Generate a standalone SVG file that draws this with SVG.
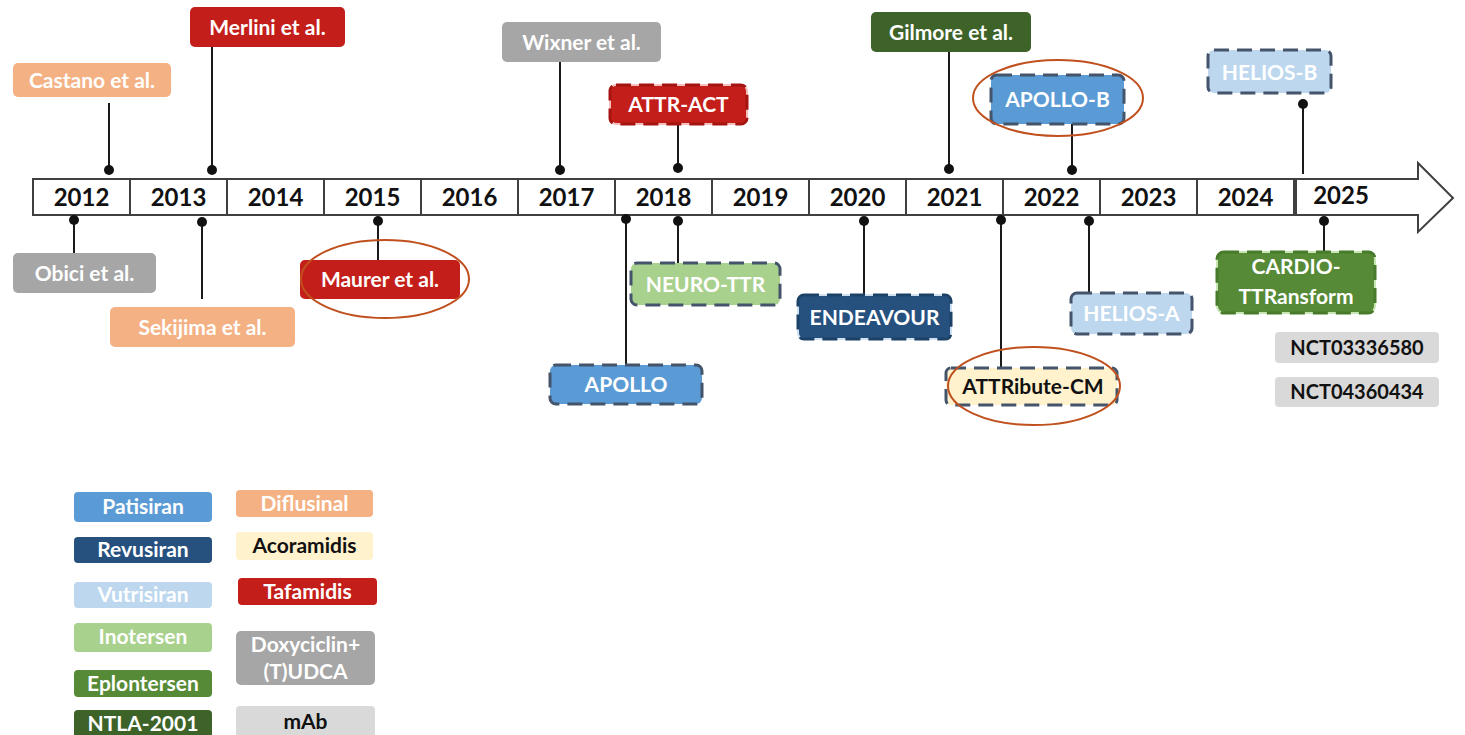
<svg xmlns="http://www.w3.org/2000/svg" width="1465" height="735" viewBox="0 0 1465 735">
<style>
text{font-family:Lato,"Open Sans","Liberation Sans",sans-serif;font-weight:bold;text-anchor:middle}
.lbl{font-size:21px;fill:#ffffff}
.nct{font-size:20px}
.dk{fill:#111111}
.yr{font-size:24px;fill:#111111}
.peach{fill:#F4B183}
.red{fill:#C41E1A}
.gray{fill:#A6A6A6}
.lgray{fill:#D9D9D9}
.blue{fill:#5B9BD5}
.dblue{fill:#26507E}
.lblue{fill:#BDD7EE}
.lgreen{fill:#A9D18E}
.green{fill:#568A36}
.dgreen{fill:#3D6328}
.yellow{fill:#FFF2CC}
.dash{stroke:#44546A;stroke-width:3;stroke-dasharray:15 8}
.conn line{stroke:#1a1a1a;stroke-width:2}
.conn circle{fill:#111111}
.ring{fill:none;stroke:#C0501E;stroke-width:2}
.cell{fill:#ffffff;stroke:#404040;stroke-width:2}
</style>
<rect width="1465" height="735" fill="#ffffff"/>

<g id="timeline">
  <rect class="cell" x="33" y="179" width="1262" height="36"/>
  <g stroke="#404040" stroke-width="2">
    <line x1="130" y1="179" x2="130" y2="215"/>
    <line x1="227" y1="179" x2="227" y2="215"/>
    <line x1="324" y1="179" x2="324" y2="215"/>
    <line x1="421" y1="179" x2="421" y2="215"/>
    <line x1="518" y1="179" x2="518" y2="215"/>
    <line x1="615" y1="179" x2="615" y2="215"/>
    <line x1="712" y1="179" x2="712" y2="215"/>
    <line x1="809" y1="179" x2="809" y2="215"/>
    <line x1="906" y1="179" x2="906" y2="215"/>
    <line x1="1003" y1="179" x2="1003" y2="215"/>
    <line x1="1100" y1="179" x2="1100" y2="215"/>
    <line x1="1197" y1="179" x2="1197" y2="215"/>
  </g>
  <path d="M1296,179 H1418 V163 L1453,198 L1418,232 V215 H1296 Z" fill="#ffffff" stroke="#404040" stroke-width="2"/>
  <line x1="1295" y1="178" x2="1295" y2="216" stroke="#404040" stroke-width="4"/>
  <text class="yr" x="81.5" y="206">2012</text>
  <text class="yr" x="178.5" y="206">2013</text>
  <text class="yr" x="275.5" y="206">2014</text>
  <text class="yr" x="372.5" y="206">2015</text>
  <text class="yr" x="469.5" y="206">2016</text>
  <text class="yr" x="566.5" y="206">2017</text>
  <text class="yr" x="663.5" y="206">2018</text>
  <text class="yr" x="760.5" y="206">2019</text>
  <text class="yr" x="857.5" y="206">2020</text>
  <text class="yr" x="954.5" y="206">2021</text>
  <text class="yr" x="1051.5" y="206">2022</text>
  <text class="yr" x="1148.5" y="206">2023</text>
  <text class="yr" x="1245.5" y="206">2024</text>
  <text class="yr" x="1341" y="204">2025</text>
</g>

<g id="connectors" class="conn">
  <line x1="109" y1="103" x2="109" y2="170"/><circle cx="109" cy="170" r="5"/>
  <line x1="212" y1="47" x2="212" y2="170"/><circle cx="212" cy="170" r="5"/>
  <line x1="74" y1="220" x2="74" y2="253"/><circle cx="74" cy="220" r="5"/>
  <line x1="202" y1="222" x2="202" y2="299"/><circle cx="202" cy="222" r="5"/>
  <line x1="378" y1="221" x2="378" y2="260"/><circle cx="378" cy="221" r="5"/>
  <line x1="560" y1="62" x2="560" y2="170"/><circle cx="560" cy="170" r="5"/>
  <line x1="678" y1="124" x2="678" y2="168"/><circle cx="678" cy="168" r="5"/>
  <line x1="949" y1="52" x2="949" y2="169"/><circle cx="949" cy="169" r="5"/>
  <line x1="626" y1="219" x2="626" y2="365"/><circle cx="626" cy="219" r="5"/>
  <line x1="678" y1="221" x2="678" y2="263"/><circle cx="678" cy="221" r="5"/>
  <line x1="864" y1="221" x2="864" y2="295"/><circle cx="864" cy="221" r="5"/>
  <line x1="1072" y1="124" x2="1072" y2="170"/><circle cx="1072" cy="170" r="5"/>
  <line x1="1303" y1="104" x2="1303" y2="174"/><circle cx="1303" cy="104" r="5"/>
  <line x1="1001" y1="220" x2="1001" y2="368"/><circle cx="1001" cy="220" r="5"/>
  <line x1="1089" y1="221" x2="1089" y2="293"/><circle cx="1089" cy="221" r="5"/>
  <line x1="1324" y1="221" x2="1324" y2="252"/><circle cx="1324" cy="221" r="5"/>
</g>

<g id="castano"><rect class="peach" x="13" y="63" width="158" height="34" rx="5"/><text class="lbl" x="92" y="88">Castano et al.</text></g>
<g id="merlini"><rect class="red" x="190" y="7" width="155" height="40" rx="5"/><text class="lbl" x="267.5" y="35">Merlini et al.</text></g>
<g id="obici"><rect class="gray" x="13" y="253" width="143" height="40" rx="5"/><text class="lbl" x="84.5" y="281">Obici et al.</text></g>
<g id="sekijima"><rect class="peach" x="110" y="307" width="185" height="40" rx="5"/><text class="lbl" x="202.5" y="335">Sekijima et al.</text></g>
<g id="maurer"><rect class="red" x="300" y="260" width="160" height="39" rx="5"/><text class="lbl" x="380" y="287">Maurer et al.</text></g>
<g id="wixner"><rect class="gray" x="502" y="22" width="159" height="40" rx="5"/><text class="lbl" x="581.5" y="50">Wixner et al.</text></g>
<g id="attr-act"><rect class="red" x="610" y="85" width="137" height="39" rx="6" stroke="#f3c0bd" stroke-width="2"/><rect x="610" y="85" width="137" height="39" rx="6" fill="none" stroke="#A51410" stroke-width="3" stroke-dasharray="15 8"/><text class="lbl" x="678.5" y="112">ATTR-ACT</text></g>
<g id="gilmore"><rect class="dgreen" x="871" y="12" width="160" height="40" rx="5"/><text class="lbl" x="951" y="40">Gilmore et al.</text></g>
<g id="apollo"><rect class="blue dash" x="550" y="365" width="152" height="39" rx="6"/><text class="lbl" x="626" y="392">APOLLO</text></g>
<g id="neuro-ttr"><rect class="lgreen dash" x="631" y="263" width="149" height="42" rx="6"/><text class="lbl" x="705.5" y="292">NEURO-TTR</text></g>
<g id="endeavour"><rect class="dblue" x="798" y="295" width="153" height="44" rx="6" stroke="#cfe0f0" stroke-width="2"/><rect x="798" y="295" width="153" height="44" rx="6" fill="none" stroke="#1d4268" stroke-width="3" stroke-dasharray="15 8"/><text class="lbl" x="874.5" y="325">ENDEAVOUR</text></g>
<g id="apollo-b"><rect class="blue dash" x="991" y="75" width="133" height="49" rx="6"/><text class="lbl" x="1057.5" y="107">APOLLO-B</text><ellipse class="ring" cx="1058" cy="98" rx="85" ry="38"/></g>
<g id="helios-b"><rect class="lblue dash" x="1208" y="50" width="123" height="43" rx="6"/><text class="lbl" x="1269.5" y="80">HELIOS-B</text></g>
<g id="attribute-cm"><rect class="yellow dash" x="946" y="368" width="171" height="37" rx="5"/><text class="lbl dk" x="1033" y="394">ATTRibute-CM</text><ellipse class="ring" cx="1034" cy="386" rx="86" ry="39"/></g>
<g id="helios-a"><rect class="lblue dash" x="1071" y="293" width="121" height="41" rx="6"/><text class="lbl" x="1131.5" y="321">HELIOS-A</text></g>
<g id="cardio"><rect class="green" x="1217" y="252" width="158" height="61" rx="7" stroke="#c8e6b4" stroke-width="2"/><rect x="1217" y="252" width="158" height="61" rx="7" fill="none" stroke="#477a2b" stroke-width="3" stroke-dasharray="15 8"/><text class="lbl" x="1296" y="274">CARDIO-</text><text class="lbl" x="1296" y="304">TTRansform</text></g>
<g id="nct03336580"><rect class="lgray" x="1275" y="332" width="164" height="31" rx="4"/><text class="lbl nct dk" x="1357" y="355">NCT03336580</text></g>
<g id="nct04360434"><rect class="lgray" x="1275" y="377" width="164" height="30" rx="4"/><text class="lbl nct dk" x="1357" y="399">NCT04360434</text></g>

<g id="maurer-ring"><ellipse class="ring" cx="385" cy="279" rx="84" ry="39"/></g>

<g id="legend">
  <g id="leg-patisiran"><rect class="blue" x="74" y="492" width="138" height="30" rx="4"/><text class="lbl" x="143" y="514">Patisiran</text></g>
  <g id="leg-revusiran"><rect class="dblue" x="74" y="537" width="138" height="26" rx="4"/><text class="lbl" x="143" y="557">Revusiran</text></g>
  <g id="leg-vutrisiran"><rect class="lblue" x="74" y="582" width="138" height="26" rx="4"/><text class="lbl" x="143" y="602">Vutrisiran</text></g>
  <g id="leg-inotersen"><rect class="lgreen" x="74" y="623" width="138" height="29" rx="4"/><text class="lbl" x="143" y="644">Inotersen</text></g>
  <g id="leg-eplontersen"><rect class="green" x="74" y="670" width="138" height="27" rx="4"/><text class="lbl" x="143" y="691">Eplontersen</text></g>
  <g id="leg-ntla"><rect class="dgreen" x="74" y="710" width="138" height="30" rx="4"/><text class="lbl" x="143" y="731">NTLA-2001</text></g>
  <g id="leg-diflusinal"><rect class="peach" x="236" y="490" width="137" height="27" rx="4"/><text class="lbl" x="304.5" y="511">Diflusinal</text></g>
  <g id="leg-acoramidis"><rect class="yellow" x="236" y="532" width="137" height="28" rx="4"/><text class="lbl dk" x="304.5" y="553">Acoramidis</text></g>
  <g id="leg-tafamidis"><rect class="red" x="238" y="578" width="139" height="27" rx="4"/><text class="lbl" x="307.5" y="599">Tafamidis</text></g>
  <g id="leg-doxy"><rect class="gray" x="236" y="631" width="139" height="54" rx="5"/><text class="lbl" x="305.5" y="652">Doxyciclin+</text><text class="lbl" x="305.5" y="679">(T)UDCA</text></g>
  <g id="leg-mab"><rect class="lgray" x="236" y="706" width="139" height="32" rx="4"/><text class="lbl dk" x="305.5" y="729">mAb</text></g>
</g>
</svg>
